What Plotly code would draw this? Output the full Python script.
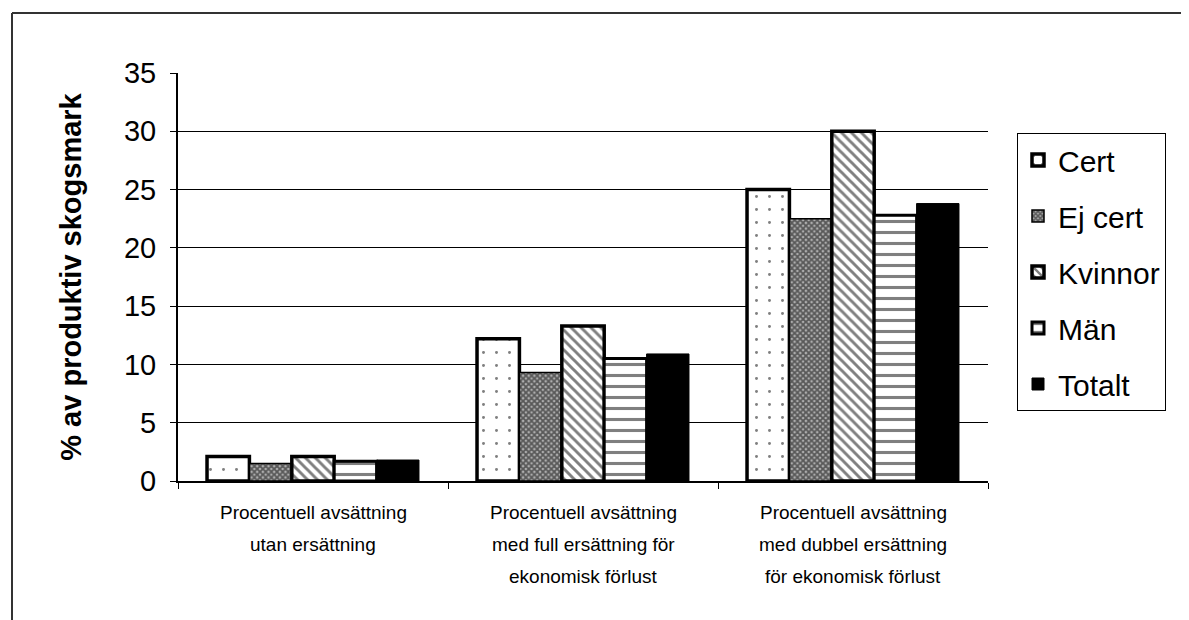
import plotly.graph_objects as go

categories = [
    "Procentuell avsättning<br>utan ersättning",
    "Procentuell avsättning<br>med full ersättning för<br>ekonomisk förlust",
    "Procentuell avsättning<br>med dubbel ersättning<br>för ekonomisk förlust",
]
series_names = ["Cert", "Ej cert", "Kvinnor", "Män", "Totalt"]
cert = [2.1, 12.2, 25.0]
ej_cert = [1.5, 9.3, 22.5]
kvinnor = [2.1, 13.3, 30.0]
man = [1.7, 10.5, 22.8]
totalt = [1.8, 10.9, 23.8]
y_ticks = [0, 5, 10, 15, 20, 25, 30, 35]
y_title = "% av produktiv skogsmark"

values = [cert, ej_cert, kvinnor, man, totalt]
patterns = [
    dict(shape=".", size=13, solidity=0.04, fgcolor="black", bgcolor="white"),
    dict(shape="x", size=4, solidity=0.7, fgcolor="black", bgcolor="#b0b0b0"),
    dict(shape="\\", size=7, solidity=0.42, fgcolor="black", bgcolor="white"),
    dict(shape="-", size=11, solidity=0.28, fgcolor="black", bgcolor="white"),
    dict(shape="", fgcolor="black", bgcolor="black"),
]
line_widths = [3.5, 1.5, 3.5, 3, 1]

fig = go.Figure()
for i, (name, vals) in enumerate(zip(series_names, values)):
    fig.add_trace(go.Bar(
        x=categories, y=vals, name=name, legendgroup=name,
        marker=dict(color="black" if name == "Totalt" else "white",
                    pattern=patterns[i],
                    line=dict(color="black", width=line_widths[i])),
    ))

# page has an 8px body margin; figure coordinates are page coords - 8
W, H = 1181, 612
L, T = 170, 65
pw, ph = 810, 408
R, B = W - L - pw, H - T - ph

fig.update_layout(
    width=W, height=H,
    margin=dict(l=L, r=R, t=T, b=B),
    paper_bgcolor="white", plot_bgcolor="white",
    barmode="group", bargap=0.215, bargroupgap=0,
    font=dict(family="Liberation Sans, Arial, sans-serif", color="black"),
    legend=dict(
        x=(1009 - L) / pw, y=1 - (125 - T) / ph, xanchor="left", yanchor="top",
        bordercolor="black", borderwidth=1, bgcolor="white",
        font=dict(size=30), tracegroupgap=14, traceorder="grouped",
        itemwidth=30,
    ),
    showlegend=True,
)
fig.update_yaxes(
    range=[0, 35], tickvals=y_ticks, showgrid=True, gridcolor="black", gridwidth=1,
    showline=True, linecolor="black", linewidth=2, ticks="outside", ticklen=6,
    tickcolor="black", tickfont=dict(size=29), zeroline=False, ticklabelstandoff=8,
    title=dict(text="<b>" + y_title + "</b>", font=dict(size=29), standoff=34),
)
fig.update_xaxes(
    showline=True, linecolor="black", linewidth=2, ticks="outside", ticklen=6,
    tickcolor="black", tickson="boundaries", showticklabels=False,
)

# multi-line category labels, one annotation per line for Excel-like line spacing
line_offsets_px = [31, 63, 95]
for cat in categories:
    for j, line in enumerate(cat.split("<br>")):
        fig.add_annotation(
            x=cat, xref="x", y=-line_offsets_px[j] / ph, yref="paper",
            text=line, showarrow=False, xanchor="center", yanchor="middle",
            font=dict(size=19, family="Liberation Sans, Arial"),
        )

# outer frame (cropped border)
x0 = (4 - L) / pw
x1 = (W - L) / pw
y_top = 1 + (T - 5) / ph
y_bot = -(B + 10) / ph
fig.add_shape(type="line", xref="paper", yref="paper", x0=x0, x1=x1, y0=y_top, y1=y_top,
              line=dict(color="#333", width=2))
fig.add_shape(type="line", xref="paper", yref="paper", x0=x0, x1=x0, y0=y_top, y1=y_bot,
              line=dict(color="#333", width=2))

fig.write_html("out.html")
